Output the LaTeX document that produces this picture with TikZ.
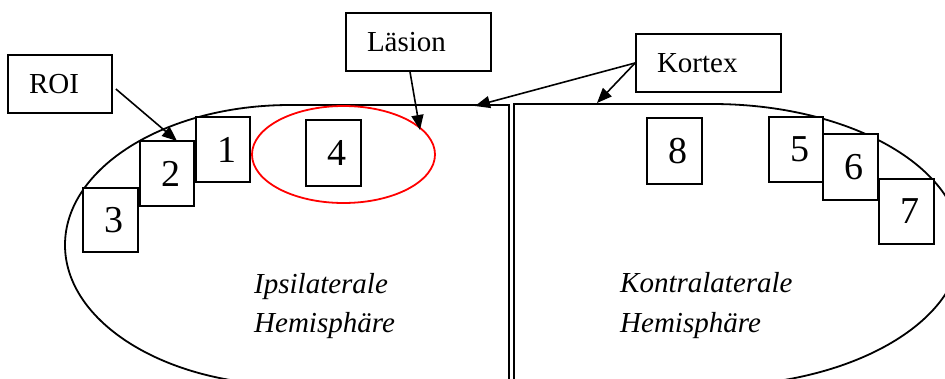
\documentclass[tikz,border=0pt]{standalone}
\usepackage{fontspec}
\setmainfont{Liberation Serif}
\usetikzlibrary{arrows.meta}
\newcommand{\pd}{\hspace*{21pt}}
\tikzset{
  ln/.style={line width=1.8pt},
  lbl/.style 2 args={draw, fill=white, line width=1.8pt, inner sep=0pt,
    minimum width=#1pt, minimum height=#2pt, text width=#1pt, align=left,
    font=\fontsize{29}{34}\selectfont},
  num/.style 2 args={draw, fill=white, line width=1.8pt, inner sep=0pt,
    minimum width=#1pt, minimum height=#2pt, text width=#1pt, align=left,
    font=\fontsize{38}{42}\selectfont},
  arr/.style={line width=1.6pt, -{Triangle[length=15pt,width=12pt]}},
  it/.style={font=\fontsize{29}{35}\selectfont\itshape, inner sep=0pt},
}
\begin{document}
\begin{tikzpicture}[x=1pt,y=1pt]
\useasboundingbox (0,0) rectangle (945,-378);
\clip (0,0) rectangle (945,-378);
% hemispheres
\draw[ln] (509,-400) -- (509,-105) -- (290,-105)
  arc[start angle=90,end angle=270,x radius=225,y radius=140];
\draw[ln] (514,-400) -- (514,-104) -- (712,-104)
  arc[start angle=90,end angle=-90,x radius=249,y radius=141];
% lesion
\draw[red, ln] (343.5,-154.5) ellipse [x radius=91.5, y radius=48.5];
% label boxes
\node[lbl={104}{58}] (roi) at (60,-84) {\pd ROI};
\node[lbl={145}{58}] (lasion) at (418.5,-42) {\pd Läsion};
\node[lbl={145}{58}] (kortex) at (708.5,-63) {\pd Kortex};
% ROI boxes
\node[num={54}{65}] (n1) at (223,-149.5) {\pd 1};
\node[num={54}{65}] (n2) at (167,-173.5) {\pd 2};
\node[num={55}{64}] (n3) at (110.5,-220) {\pd 3};
\node[num={55}{66}] (n4) at (333.5,-153) {\pd 4};
\node[num={54}{65}] (n5) at (796,-149.5) {\pd 5};
\node[num={55}{66}] (n6) at (850.5,-167) {\pd 6};
\node[num={55}{65}] (n7) at (906.5,-211.5) {\pd 7};
\node[num={55}{66}] (n8) at (674.5,-151) {\pd 8};
% arrow targets
\coordinate (roiT) at (177,-141);
\coordinate (lesT) at (420,-130);
\coordinate (kL) at (475,-106);
\coordinate (kR) at (597,-103);
\draw[arr] ([shift={(3,-5)}]roi.east) -- (roiT);
\draw[arr] ([xshift=-8.5]lasion.south) -- (lesT);
\draw[arr] (kortex.west) -- (kL);
\draw[arr] (kortex.west) -- (kR);
% texts
\node[it, anchor=base west] (ip1) at (254,-293) {Ipsilaterale};
\node[it, anchor=base west] (ip2) at (254,-332) {Hemisphäre};
\node[it, anchor=base west] (ko1) at (620,-292) {Kontralaterale};
\node[it, anchor=base west] (ko2) at (620,-332) {Hemisphäre};
\end{tikzpicture}
\end{document}
